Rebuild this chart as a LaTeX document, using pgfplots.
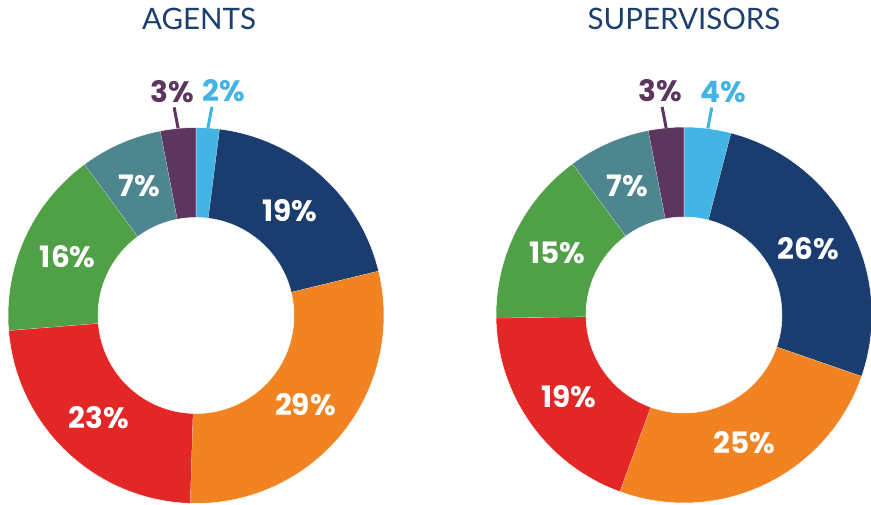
\documentclass[border=0pt]{standalone}
\usepackage{pgfplots}
\usepackage{pgfplotstable}
\pgfplotsset{compat=1.18}
\usepackage{fontspec}
\setmainfont{Lato}
\newfontfamily\pop{Poppins}
\definecolor{cLB}{HTML}{43B3E4}
\definecolor{cNavy}{HTML}{1A3C6E}
\definecolor{cOrange}{HTML}{F28322}
\definecolor{cRed}{HTML}{E22726}
\definecolor{cGreen}{HTML}{4FA047}
\definecolor{cTeal}{HTML}{4D868F}
\definecolor{cPurple}{HTML}{5C365E}
\definecolor{cTitle}{HTML}{1C3F6E}

\pgfplotstableread{
name value color
LightBlue 2 cLB
Navy 19 cNavy
Orange 29 cOrange
Red 23 cRed
Green 16 cGreen
Teal 7 cTeal
Purple 3 cPurple
}\agents

\pgfplotstableread{
name value color
LightBlue 4 cLB
Navy 26 cNavy
Orange 25 cOrange
Red 19 cRed
Green 15 cGreen
Teal 7 cTeal
Purple 3 cPurple
}\supervisors

% #1 table, #2 cx, #3 cy
\newcommand\donut[3]{%
  \pgfplotstablegetrowsof{#1}\pgfmathtruncatemacro\nmax{\pgfplotsretval-1}%
  \def\tot{0}%
  \pgfplotsforeachungrouped \i in {0,...,\nmax}{%
    \pgfplotstablegetelem{\i}{value}\of{#1}%
    \pgfmathsetmacro\tot{\tot+\pgfplotsretval}%
  }%
  \def\cum{0}%
  \pgfplotsforeachungrouped \i in {0,...,\nmax}{%
    \pgfplotstablegetelem{\i}{value}\of{#1}\let\v\pgfplotsretval
    \pgfplotstablegetelem{\i}{color}\of{#1}\let\c\pgfplotsretval
    \pgfmathsetmacro\a{\cum/\tot*360}%
    \pgfmathsetmacro\cum{\cum+\v}%
    \pgfmathsetmacro\b{\cum/\tot*360}%
    \pgfmathsetmacro\m{(\a+\b)/2}%
    \edef\tmp{\noexpand\addplot[fill=\c, draw=white, line width=0.5pt, domain=0:3, samples=181, variable=\noexpand\t]
      ({#2+ringrad(\noexpand\t,188,98)*sin(ringang(\noexpand\t,\a,\b))},{#3-ringrad(\noexpand\t,188,98)*cos(ringang(\noexpand\t,\a,\b))});}%
    \tmp
    \pgfmathparse{\v>=5}%
    \ifdim\pgfmathresult pt>0.5pt
      \pgfmathsetmacro\lx{#2+141*sin(\m)}%
      \pgfmathsetmacro\ly{#3-141*cos(\m)}%
      \edef\tmp{\noexpand\node[lbl] at (axis cs:\lx,\ly) {\v\noexpand\%};}%
      \tmp
    \else
      \pgfmathsetmacro\s{\m>180 ? -1 : 1}%
      \pgfmathsetmacro\bx{#2+188*sin(\m)}%
      \pgfmathsetmacro\by{#3-188*cos(\m)}%
      \pgfmathsetmacro\tx{\bx+\s*4}%
      \pgfmathsetmacro\ty{\by-21}%
      \pgfmathsetmacro\nx{\tx+\s*7+5}%
      \pgfmathsetmacro\ny{\ty-5}%
      \edef\tmp{\noexpand\draw[\c, line width=3pt] (axis cs:\bx,\by) -- (axis cs:\tx,\ty);
        \noexpand\node[olbl, text=\c] at (axis cs:\nx,\ny) {\v\noexpand\%};}%
      \tmp
    \fi
  }%
}

\begin{document}
\begin{tikzpicture}[
  declare function={
    ringang(\p,\q,\r)=(\p<=1) ? (\q+(\r-\q)*\p) : ((\p<=2) ? \r : (\r-(\r-\q)*(\p-2)));
    ringrad(\p,\q,\r)=(\p<=1) ? \q : ((\p<=2) ? (\q-(\q-\r)*(\p-1)) : \r);
  },
  lbl/.style={text=white, font=\pop\bfseries\fontsize{29.5}{29.5}\selectfont, inner sep=0pt, anchor=center},
  olbl/.style={font=\pop\bfseries\fontsize{29.5}{29.5}\selectfont, inner sep=0pt, anchor=base},
  ttl/.style={text=cTitle, font=\fontsize{29.5}{29.5}\selectfont, inner sep=0pt, anchor=base}
]
\begin{axis}[
  width=871pt, height=504pt, scale only axis,
  xmin=0, xmax=871, ymin=0, ymax=504, y dir=reverse,
  hide axis, clip=false
]
\donut{\agents}{196}{315.5}
\donut{\supervisors}{684}{315}
\node[ttl] at (axis cs:199,29) {AGENTS};
\node[ttl] at (axis cs:684,29) {SUPERVISORS};
\end{axis}
\pgfresetboundingbox
\path (0,0) rectangle (871pt,504pt);
\end{tikzpicture}
\end{document}
